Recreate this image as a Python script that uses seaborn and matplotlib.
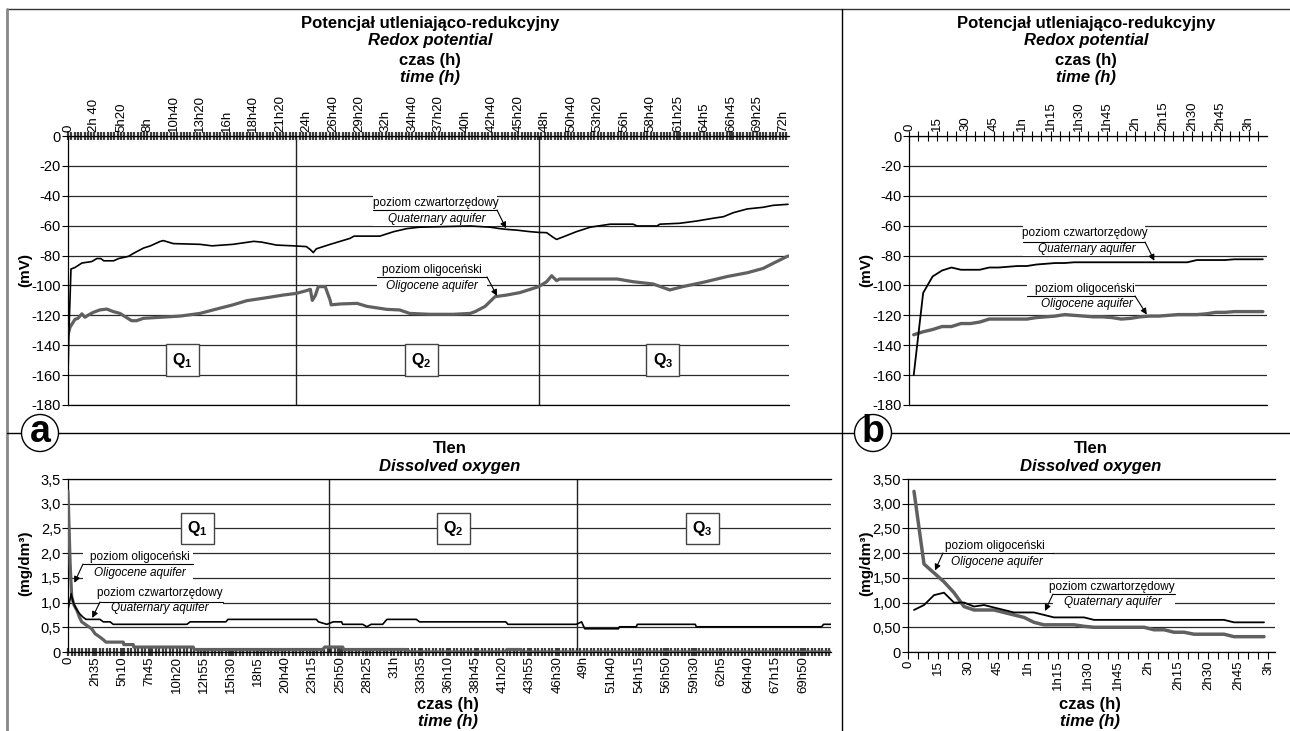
import matplotlib
matplotlib.use('Agg')
import matplotlib.pyplot as plt
import seaborn as sns
import pandas as pd
from matplotlib.patches import Rectangle, Ellipse
from matplotlib.lines import Line2D
from matplotlib.ticker import MultipleLocator

# ---------------- DATA ----------------
# (a) Redox potential, 72 h test, time in hours, mV
redox72_quat_t = [0.0, 0.1, 0.3, 0.7, 1.4, 2.4, 2.9, 3.3, 3.6, 4.6, 5.1, 6.1, 6.6, 7.6, 8.3,
                  9.3, 9.6, 10.6, 13.3, 14.5, 16.6, 18.7, 19.5, 21.0, 22.7, 24.0, 24.4, 24.7,
                  25.0, 25.7, 26.4, 27.4, 28.4, 28.8, 30.1, 31.4, 32.8, 34.1, 35.4, 40.5, 42.5,
                  43.5, 44.2, 45.2, 46.5, 47.4, 48.2, 48.9, 49.2, 49.9, 51.2, 52.6, 54.6, 56.9,
                  57.3, 59.3, 59.6, 61.6, 63.3, 65.0, 66.0, 67.0, 68.4, 70.0, 71.0, 72.5]
redox72_quat_v = [-160, -130, -89, -88, -85, -84, -82, -82, -83.5, -83.5, -82, -80.5, -78.5, -75, -73.5,
                  -70.5, -70, -72, -72.5, -73.5, -72.5, -70.5, -71, -73, -73.5, -74, -76, -78,
                  -75.5, -74, -72.5, -70.5, -68.5, -67, -67, -67, -64, -62, -61, -60.2, -61,
                  -62, -62.5, -63, -64, -64.5, -64.7, -68, -69.2, -67.4, -64, -61, -59, -59,
                  -60.2, -60.2, -59, -58.4, -56.9, -55, -54, -51.3, -48.8, -47.7, -46.4, -45.7]
redox72_olig_t = [0.0, 0.2, 0.7, 1.0, 1.4, 1.7, 2.05, 2.55, 3.2, 3.9, 4.56, 5.23, 6.4, 6.9, 7.6,
                  9.3, 11.3, 13.3, 14.6, 16.6, 18.0, 20.0, 21.7, 23.0, 24.0, 24.4, 24.6, 24.9,
                  25.2, 25.9, 26.4, 26.5, 27.4, 29.1, 30.1, 32.1, 33.4, 34.4, 36.4, 38.8, 40.5,
                  41.0, 42.0, 43.0, 44.2, 45.5, 47.4, 48.2, 48.7, 49.2, 49.5, 51.6, 55.3, 56.9,
                  58.9, 60.6, 61.9, 63.9, 66.4, 68.4, 70.0, 71.0, 72.5]
redox72_olig_v = [-133, -128, -122.7, -122, -119, -121.3, -119.8, -118, -116.4, -115.8, -117.5, -118.7, -123.6, -123.6, -122,
                  -121.3, -120.5, -118.7, -116.4, -113, -110.2, -108.2, -106.4, -105.3, -103.5, -102.6, -110, -106.8,
                  -100.8, -100.8, -110, -113, -112.4, -112, -114, -116, -116.4, -118.7, -119.3, -119.3, -118.7,
                  -117.5, -114, -107.5, -106.4, -104.8, -100.8, -97.5, -93.5, -96.8, -95.7, -95.7, -95.7, -97.5,
                  -99, -103, -100.8, -98, -94, -91.5, -88.6, -85.2, -80.3]
redox72_q_bounds = [23.0, 47.4]

# (a) Dissolved oxygen, 72 h test, time in hours, mg/dm3
oxy72_olig_t = [0.0, 0.2, 0.35, 0.57, 0.83, 1.08, 1.3, 1.77, 2.25, 2.57, 3.04, 3.35, 3.6, 5.25, 5.3,
                6.2, 6.25, 11.9, 12.0, 24.2, 24.4, 26.1, 26.2, 32.2, 32.5, 41.5, 41.7, 43.0, 43.2, 72.5]
oxy72_olig_v = [3.25, 1.8, 1.12, 0.95, 0.85, 0.71, 0.61, 0.54, 0.47, 0.37, 0.3, 0.25, 0.2, 0.2, 0.15,
                0.15, 0.1, 0.1, 0.05, 0.05, 0.1, 0.1, 0.05, 0.05, 0.0, 0.0, 0.05, 0.05, 0.0, 0.0]
oxy72_quat_t = [0.0, 0.3, 0.5, 0.76, 1.08, 1.4, 1.71, 3.04, 3.35, 4.0, 4.3, 11.3, 11.6, 15.0, 15.2,
                23.6, 23.8, 24.6, 25.2, 26.0, 26.1, 28.0, 28.4, 28.8, 29.9, 30.3, 33.1, 33.4, 41.6, 41.8,
                48.3, 48.8, 49.1, 52.3, 52.4, 54.0, 54.1, 59.6, 59.7, 71.6, 71.8, 72.5]
oxy72_quat_v = [0.85, 1.18, 1.0, 0.88, 0.78, 0.71, 0.66, 0.66, 0.61, 0.61, 0.56, 0.56, 0.61, 0.61, 0.66,
                0.66, 0.61, 0.56, 0.61, 0.61, 0.56, 0.56, 0.51, 0.56, 0.56, 0.66, 0.66, 0.61, 0.61, 0.56,
                0.56, 0.61, 0.47, 0.47, 0.51, 0.51, 0.56, 0.56, 0.51, 0.51, 0.56, 0.56]
oxy72_q_bounds = [24.8, 48.4]

# (b) Redox potential, 3 h test, time in minutes
redox3_t = [2.5, 7.5, 12.5, 17.5, 22.5, 27.5, 32.5, 37.5, 42.5, 47.5, 52.5, 57.5, 62.5, 67.5, 72.5,
            77.5, 82.5, 87.5, 92.5, 97.5, 102.5, 107.5, 112.5, 117.5, 122.5, 127.5, 132.5, 137.5,
            142.5, 147.5, 152.5, 157.5, 162.5, 167.5, 172.5, 177.5, 182.5, 187.5]
redox3_quat = [-160, -105, -94, -90, -88, -89.5, -89.5, -89.5, -88, -88, -87.5, -87, -87, -86, -85.5,
               -85, -85, -84.5, -84.5, -84.5, -84.5, -84.5, -84.5, -84.5, -84.5, -84.5, -84.5, -84.5,
               -84.5, -84.5, -83, -83, -83, -83, -82.5, -82.5, -82.5, -82.5]
redox3_olig = [-133, -131, -129.5, -127.5, -127.5, -125.5, -125.5, -124.5, -122.5, -122.5, -122.5, -122.5, -122.5, -121.5, -121,
               -120.5, -119.5, -120, -120.5, -121, -121, -121.5, -122.5, -122, -121, -120.5, -120.5, -120,
               -119.5, -119.5, -119.5, -119, -118, -118, -117.5, -117.5, -117.5, -117.5]

# (b) Dissolved oxygen, 3 h test, time in minutes
oxy3_t = [3, 8, 13, 18, 23, 28, 33, 38, 43, 48, 53, 58, 63, 68, 73, 78, 83, 88, 93, 98, 103, 108,
          113, 118, 123, 128, 133, 138, 143, 148, 153, 158, 163, 168, 173, 178]
oxy3_olig = [3.25, 1.78, 1.6, 1.42, 1.2, 0.92, 0.85, 0.85, 0.85, 0.8, 0.75, 0.7, 0.6, 0.55, 0.55, 0.55,
             0.55, 0.52, 0.5, 0.5, 0.5, 0.5, 0.5, 0.5, 0.45, 0.45, 0.4, 0.4, 0.36, 0.36, 0.36, 0.36,
             0.31, 0.31, 0.31, 0.31]
oxy3_quat = [0.85, 0.95, 1.15, 1.2, 1.0, 1.0, 0.92, 0.95, 0.9, 0.85, 0.8, 0.8, 0.8, 0.75, 0.7, 0.7,
             0.7, 0.7, 0.65, 0.65, 0.65, 0.65, 0.65, 0.65, 0.65, 0.65, 0.65, 0.65, 0.65, 0.65, 0.65, 0.65,
             0.6, 0.6, 0.6, 0.6]

# tick labels
redox72_xlabels = ["0", "2h 40", "5h20", "8h", "10h40", "13h20", "16h", "18h40", "21h20", "24h", "26h40",
                   "29h20", "32h", "34h40", "37h20", "40h", "42h40", "45h20", "48h", "50h40", "53h20", "56h",
                   "58h40", "61h25", "64h5", "66h45", "69h25", "72h"]
oxy72_xlabels = ["0", "2h35", "5h10", "7h45", "10h20", "12h55", "15h30", "18h5", "20h40", "23h15", "25h50",
                 "28h25", "31h", "33h35", "36h10", "38h45", "41h20", "43h55", "46h30", "49h", "51h40", "54h15",
                 "56h50", "59h30", "62h5", "64h40", "67h15", "69h50"]
short_xlabels = ["0", "15", "30", "45", "1h", "1h15", "1h30", "1h45", "2h", "2h15", "2h30", "2h45", "3h"]
redox_yticks = [0, -20, -40, -60, -80, -100, -120, -140, -160, -180]
oxy_yticks = [0, 0.5, 1.0, 1.5, 2.0, 2.5, 3.0, 3.5]
oxy72_ylabels = ["0", "0,5", "1,0", "1,5", "2,0", "2,5", "3,0", "3,5"]
oxy3_ylabels = ["0", "0,50", "1,00", "1,50", "2,00", "2,50", "3,00", "3,50"]
q_labels = [r"$\mathbf{Q_1}$", r"$\mathbf{Q_2}$", r"$\mathbf{Q_3}$"]
redox72_q_pos = [11.5, 35.6, 59.9]
oxy72_q_pos = [12.3, 36.6, 60.3]

# ---------------- STYLE ----------------
sns.set_theme(style='white')
FONTS = ['Liberation Sans', 'DejaVu Sans']
plt.rcParams['font.family'] = FONTS
plt.rcParams['mathtext.fontset'] = 'custom'
plt.rcParams['mathtext.rm'] = 'Liberation Sans'
plt.rcParams['mathtext.bf'] = 'Liberation Sans:bold'
plt.rcParams['mathtext.it'] = 'Liberation Sans:italic'
for k in ['text.color', 'axes.labelcolor', 'xtick.color', 'ytick.color', 'axes.edgecolor']:
    plt.rcParams[k] = 'black'

W, H = 1290, 731
fig = plt.figure(figsize=(W / 100, H / 100), dpi=100)

TICK_FS = 9.5
NOTE_FS = 8.5
TITLE_FS = 12


def P(x, y):
    return (x / W, 1 - y / H)


def make_axes(l, t, r, b):
    return fig.add_axes([l / W, 1 - b / H, (r - l) / W, (b - t) / H])


def to_minutes(lbl):
    s = lbl.replace(' ', '')
    if 'h' in s:
        h, m = s.split('h')
        return int(h) * 60 + (int(m) if m else 0)
    return int(s)


GRAY = '#606060'


def line(ax, t, v, color, lw, z):
    df = pd.DataFrame({'t': t, 'v': v})
    sns.lineplot(data=df, x='t', y='v', ax=ax, color=color, lw=lw, estimator=None,
                 sort=False, legend=False, zorder=z)
    ax.set_xlabel('')
    ax.set_ylabel('')


def style(ax, xlim, yticks, ylabels, ylim, top):
    ax.set_xlim(*xlim)
    ax.set_ylim(*ylim)
    ax.set_yticks(yticks, ylabels)
    ax.set_axisbelow(True)
    ax.yaxis.grid(True, color='#2a2a2a', lw=0.9)
    ax.xaxis.grid(False)
    ax.spines['right'].set_visible(False)
    for s in ['left', 'top', 'bottom']:
        ax.spines[s].set_color('black')
        ax.spines[s].set_linewidth(0.9)
    ax.tick_params(axis='y', direction='out', length=4, width=0.8, pad=1, labelsize=10.5, left=True)
    if top:
        ax.xaxis.tick_top()
    ax.set_facecolor('white')


def label(ax, txt1, txt2, c1, y1, c2, y2, xl, xr, yu, tip, arrow_from_right=True):
    ax.add_patch(Rectangle(P(xl, y2 + 7), (xr - xl) / W, (y2 - y1 + 15) / H,
                           transform=fig.transFigure, fc='white', ec='none', zorder=1.5, clip_on=False))
    fig.text(*P(c1, y1), txt1, ha='center', va='center', fontsize=NOTE_FS)
    fig.text(*P(c2, y2), txt2, ha='center', va='center', fontsize=NOTE_FS, style='italic')
    ax.add_line(Line2D([xl / W, xr / W], [1 - yu / H, 1 - yu / H], transform=fig.transFigure,
                       color='black', lw=0.8, clip_on=False, zorder=5))
    start = P(xr, yu) if arrow_from_right else P(xl, yu)
    ax.annotate('', xy=tip, xycoords='data', xytext=start, textcoords='figure fraction',
                arrowprops=dict(arrowstyle='-|>', color='black', lw=0.8, shrinkA=0, shrinkB=0,
                                mutation_scale=9), zorder=6, annotation_clip=False)


def qbox(ax, x, y, s):
    ax.text(x, y, s, ha='center', va='center', fontsize=11.5, zorder=5,
            bbox=dict(boxstyle='square,pad=0.4', fc='white', ec='#444444', lw=1))


def band(ax, step, which_top):
    ax.xaxis.set_minor_locator(MultipleLocator(step))
    kw = dict(top=True, bottom=False) if which_top else dict(bottom=True, top=False)
    ax.tick_params(axis='x', which='minor', direction='inout', length=6, width=1.6, color='#3c3c3c', **kw)
    ax.tick_params(axis='x', which='major', direction='inout', length=6, width=1.6, color='#3c3c3c',
                   pad=0, labelsize=TICK_FS, **kw)


# ---------------- (a) top: redox 72 h ----------------
ax1 = make_axes(68, 136, 789, 405)
line(ax1, redox72_olig_t, redox72_olig_v, GRAY, 2.3, 3)
line(ax1, redox72_quat_t, redox72_quat_v, 'black', 1.2, 4)
style(ax1, (0, 72.6), redox_yticks, [str(v) for v in redox_yticks], (-180, 0), True)
ax1.set_xticks([to_minutes(s) / 60 for s in redox72_xlabels], redox72_xlabels, rotation=90)
band(ax1, 1 / 3, True)
for b in redox72_q_bounds:
    ax1.axvline(b, color='#222222', lw=1, zorder=2)
for x, s in zip(redox72_q_pos, q_labels):
    qbox(ax1, x, -150, s)
label(ax1, "poziom czwartorzędowy", "Quaternary aquifer", 436, 203, 437, 219, 373, 497, 210, (44.1, -61.8))
label(ax1, "poziom oligoceński", "Oligocene aquifer", 432, 270, 432, 286, 377, 487, 277, (43.2, -107))

# ---------------- (b) top: redox 3 h ----------------
ax2 = make_axes(909, 136, 1267, 405)
line(ax2, redox3_t, redox3_olig, GRAY, 2.4, 3)
line(ax2, redox3_t, redox3_quat, 'black', 1.3, 4)
style(ax2, (0, 189.7), redox_yticks, [str(v) for v in redox_yticks], (-180, 0), True)
ax2.set_xticks([to_minutes(s) for s in short_xlabels], short_xlabels, rotation=90)
ax2.xaxis.set_minor_locator(MultipleLocator(5))
ax2.tick_params(axis='x', which='both', direction='inout', length=7, width=0.8, color='black',
                pad=0, labelsize=TICK_FS, top=True, bottom=False)
label(ax2, "poziom czwartorzędowy", "Quaternary aquifer", 1085, 233, 1087, 249, 1023, 1145, 242, (130, -83.5))
label(ax2, "poziom oligoceński", "Oligocene aquifer", 1085, 289, 1087, 304, 1027, 1135, 296, (126, -119.5))

# ---------------- (a) bottom: oxygen 72 h ----------------
ax3 = make_axes(68, 479, 831, 652)
line(ax3, oxy72_olig_t, oxy72_olig_v, GRAY, 2.3, 3)
line(ax3, oxy72_quat_t, oxy72_quat_v, 'black', 1.2, 4)
style(ax3, (0, 72.5), oxy_yticks, oxy72_ylabels, (0, 3.5), False)
ax3.set_xticks([to_minutes(s) / 60 for s in oxy72_xlabels], oxy72_xlabels, rotation=90)
band(ax3, 1 / 3, False)
for b in oxy72_q_bounds:
    ax3.axvline(b, color='#222222', lw=1, zorder=2)
for x, s in zip(oxy72_q_pos, q_labels):
    qbox(ax3, x, 2.5, s)
label(ax3, "poziom oligoceński", "Oligocene aquifer", 140, 557, 140, 573, 83, 193, 564, (0.6, 1.4), False)
label(ax3, "poziom czwartorzędowy", "Quaternary aquifer", 160, 593, 160, 608, 100, 223, 602, (2.3, 0.69), False)

# ---------------- (b) bottom: oxygen 3 h ----------------
ax4 = make_axes(908, 479, 1275, 652)
line(ax4, oxy3_t, oxy3_olig, GRAY, 2.5, 3)
line(ax4, oxy3_t, oxy3_quat, 'black', 1.3, 4)
style(ax4, (0, 183.5), oxy_yticks, oxy3_ylabels, (0, 3.5), False)
ax4.set_xticks([to_minutes(s) for s in short_xlabels], short_xlabels, rotation=90)
ax4.xaxis.set_minor_locator(MultipleLocator(5))
ax4.tick_params(axis='x', which='both', direction='out', length=5, width=0.8, color='black',
                pad=1, labelsize=TICK_FS, bottom=True, top=False)
label(ax4, "poziom oligoceński", "Oligocene aquifer", 995, 546, 997, 562, 943, 1053, 553, (13.5, 1.65), False)
label(ax4, "poziom czwartorzędowy", "Quaternary aquifer", 1112, 587, 1113, 602, 1053, 1175, 594, (68.5, 0.83), False)

# ---------------- titles and axis labels ----------------
for cx in (430, 1086):
    fig.text(*P(cx, 28), "Potencjał utleniająco-redukcyjny", ha='center', va='baseline', fontsize=TITLE_FS, weight='bold')
    fig.text(*P(cx, 45), "Redox potential", ha='center', va='baseline', fontsize=TITLE_FS, weight='bold', style='italic')
    fig.text(*P(cx, 65), "czas (h)", ha='center', va='baseline', fontsize=TITLE_FS, weight='bold')
    fig.text(*P(cx, 82), "time (h)", ha='center', va='baseline', fontsize=TITLE_FS, weight='bold', style='italic')
for cx in (450, 1091):
    fig.text(*P(cx, 453), "Tlen", ha='center', va='baseline', fontsize=TITLE_FS, weight='bold')
    fig.text(*P(cx, 471), "Dissolved oxygen", ha='center', va='baseline', fontsize=TITLE_FS, weight='bold', style='italic')
for cx in (448, 1090):
    fig.text(*P(cx, 709), "czas (h)", ha='center', va='baseline', fontsize=TITLE_FS, weight='bold')
    fig.text(*P(cx, 726), "time (h)", ha='center', va='baseline', fontsize=TITLE_FS, weight='bold', style='italic')
for x in (25, 866):
    fig.text(*P(x, 270), "(mV)", ha='center', va='center', rotation=90, fontsize=11, weight='bold')
    fig.text(*P(x, 563), "(mg/dm³)", ha='center', va='center', rotation=90, fontsize=11, weight='bold')

# ---------------- frame ----------------
fig.add_artist(Line2D([7 / W, 1.0], [1 - 9 / H] * 2, transform=fig.transFigure, color='#333333', lw=1))
fig.add_artist(Line2D([7 / W] * 2, [0, 1 - 9 / H], transform=fig.transFigure, color='#888888', lw=2))
fig.add_artist(Line2D([842 / W] * 2, [0, 1 - 9 / H], transform=fig.transFigure, color='black', lw=1))
fig.add_artist(Line2D([7 / W, 1.0], [1 - 433 / H] * 2, transform=fig.transFigure, color='black', lw=1))
for cx, letter in ((40, 'a'), (873, 'b')):
    fig.add_artist(Ellipse(P(cx, 433), 37 / W, 37 / H, transform=fig.transFigure,
                           fc='white', ec='black', lw=1, zorder=10))
    fig.text(*P(cx, 442), letter, ha='center', va='baseline', fontsize=27, weight='bold',
             family=['Liberation Sans', 'DejaVu Sans'], zorder=11)

fig.savefig('out.png', dpi=100)
